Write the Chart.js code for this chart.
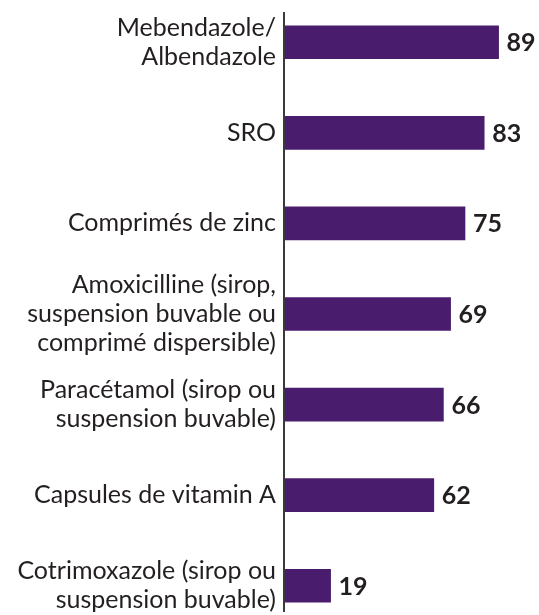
<!DOCTYPE html>
<html>
<head>
<meta charset="utf-8">
<script src="https://cdn.jsdelivr.net/npm/chart.js@4/dist/chart.umd.min.js"></script>
<style>
  html, body { margin: 0; padding: 0; background: #fff; overflow: hidden; }
  #wrap { position: absolute; left: 0; top: -3px; width: 539px; height: 634px; }
</style>
</head>
<body>
<div id="wrap"><canvas id="chart"></canvas></div>
<script>
   const categories = [
     ["Mebendazole/", "Albendazole"],
     "SRO",
     "Comprimés de zinc",
     ["Amoxicilline (sirop,", "suspension buvable ou", "comprimé dispersible)"],
     ["Paracétamol (sirop ou", "suspension buvable)"],
     "Capsules de vitamin A",
     ["Cotrimoxazole (sirop ou", "suspension buvable)"]
   ];
   const values = [89, 83, 75, 69, 66, 62, 19];

   /* value labels + axis line */
   const extras = {
     id: "extras",
     afterDatasetsDraw(chart) {
       const ctx = chart.ctx;
       const meta = chart.getDatasetMeta(0);
       ctx.save();
       ctx.fillStyle = "#231f20";
       ctx.font = "bold 25px Lato, sans-serif";
       ctx.textAlign = "left";
       ctx.textBaseline = "middle";
       meta.data.forEach((bar, i) => {
         ctx.fillText(values[i], bar.x + 8, bar.y + 1);
       });
       const x0 = chart.scales.x.getPixelForValue(0);
       ctx.strokeStyle = "#3a3a3a";
       ctx.lineWidth = 2;
       ctx.beginPath();
       ctx.moveTo(x0 - 1, chart.chartArea.top + 15);
       ctx.lineTo(x0 - 1, chart.chartArea.bottom - 19);
       ctx.stroke();
       ctx.restore();
     }
   };

   new Chart(document.getElementById("chart"), {
     type: "bar",
     data: {
       labels: categories,
       datasets: [{
         data: values,
         backgroundColor: "#4a1c6e",
         barThickness: 33
       }]
     },
     options: {
       indexAxis: "y",
       responsive: true,
       maintainAspectRatio: false,
       animation: false,
       layout: { padding: { left: 0, right: 14, top: 0, bottom: 0 } },
       plugins: { legend: { display: false }, tooltip: { enabled: false } },
       scales: {
         x: {
           min: 0,
           max: 100,
           display: false
         },
         y: {
           grid: { display: false, drawTicks: false },
           border: { display: false },
           afterFit(scale) {
             scale.width = 285;
             scale.paddingTop = 0;
             scale.paddingBottom = 0;
           },
           ticks: {
             padding: 9,
             color: "#231f20",
             font: { family: "Lato, sans-serif", size: 25, lineHeight: 1.16 }
           }
         }
       }
     },
     plugins: [extras]
   });
</script>
</body>
</html>
